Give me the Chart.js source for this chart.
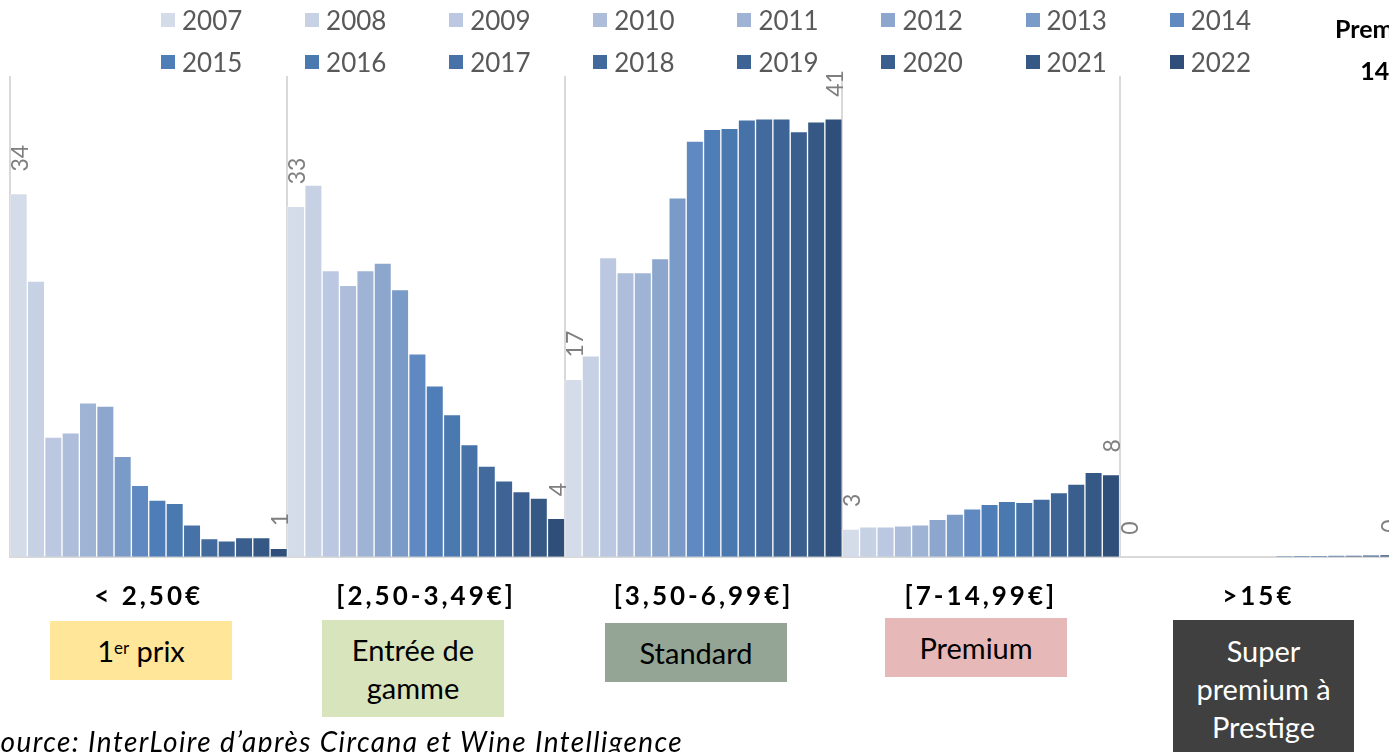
<!DOCTYPE html>
<html lang="fr">
<head>
<meta charset="utf-8">
<script src="https://cdn.jsdelivr.net/npm/chart.js@4.4.1/dist/chart.umd.min.js"></script>
<style>
  html, body { margin: 0; padding: 0; background: #fff; overflow: hidden; width: 1389px; height: 752px; }
  body { position: relative; font-family: Lato, "Open Sans", sans-serif; }
  #wrap { position: absolute; left: 0; top: 0; width: 1400px; height: 752px; }
  #legende { position: absolute; left: 161px; top: -1px; display: grid; grid-template-columns: repeat(8, 144.1px); }
  .item { height: 42px; display: flex; align-items: center; font-size: 26px; color: #595959; white-space: nowrap; }
  .carre { width: 14px; height: 14px; margin-right: 7px; flex: none; }
  .case { position: absolute; display: flex; align-items: center; justify-content: center; text-align: center;
          font-size: 29px; line-height: 38px; color: #000; }
  .case sup { font-size: 17px; line-height: 0; position: relative; top: -3px; }
  #titre { position: absolute; left: 1335px; top: 7px; width: 100px; text-align: center; font-weight: bold;
           font-size: 25px; line-height: 42px; color: #000; }
  #source { position: absolute; left: -15px; top: 724px; font-style: italic; font-size: 28px; letter-spacing: 1.4px; color: #000; white-space: nowrap; }
</style>
</head>
<body>
<div id="wrap"><canvas id="graphique"></canvas></div>
<div id="legende"></div>
<div id="titre">Premium<br>14%</div>

<div class="case" style="left:50px;top:621px;width:182px;height:59px;background:#ffe699;">1<sup>er</sup>&nbsp;prix</div>
<div class="case" style="left:322px;top:620px;width:182px;height:97px;background:#d8e4bc;">Entrée de<br>gamme</div>
<div class="case" style="left:605px;top:623px;width:182px;height:59px;background:#94a595;">Standard</div>
<div class="case" style="left:885px;top:618px;width:182px;height:59px;background:#e6b8b7;">Premium</div>
<div class="case" style="left:1173px;top:620px;width:181px;height:124px;background:#404040;color:#fff;align-items:flex-start;padding-top:12px;">Super<br>premium à<br>Prestige</div>

<div id="source">Source: InterLoire d’après Circana et Wine Intelligence</div>

<script>
const annees = ['2007', '2008', '2009', '2010', '2011', '2012', '2013', '2014',
                '2015', '2016', '2017', '2018', '2019', '2020', '2021', '2022'];
const segments = ['< 2,50€', '[2,50-3,49€]', '[3,50-6,99€]', '[7-14,99€]', '>15€'];

// part des volumes (%) par segment de prix, 2007 -> 2022
const premierPrix  = [34.0, 25.8, 11.2, 11.6, 14.4, 14.1, 9.4, 6.7, 5.3, 5.0, 3.0, 1.7, 1.5, 1.8, 1.8, 0.8];
const entreeGamme  = [32.8, 34.8, 26.8, 25.4, 26.8, 27.5, 25.0, 19.0, 16.0, 13.3, 10.5, 8.5, 7.1, 6.1, 5.5, 3.6];
const standard     = [16.6, 18.8, 28.0, 26.6, 26.6, 27.9, 33.6, 38.9, 40.0, 40.1, 40.9, 41.0, 41.0, 39.8, 40.7, 41.0];
const premium      = [2.6, 2.8, 2.8, 2.9, 3.0, 3.5, 4.0, 4.5, 4.9, 5.2, 5.1, 5.4, 6.0, 6.8, 7.9, 7.7];
const superPremium = [0, 0, 0, 0, 0, 0, 0, 0, 0, 0.05, 0.08, 0.1, 0.12, 0.15, 0.18, 0.2];

const couleurs = ['#d4dbe9', '#c6d1e4', '#bcc8e1', '#aebdd9', '#9fb3d4', '#8da6cd', '#7a9bc7', '#6189c1',
                  '#4f7db8', '#4a79b0', '#4672a8', '#426a9c', '#3e6496', '#3a5e8e', '#355885', '#2f4f7a'];

const series = [premierPrix, entreeGamme, standard, premium, superPremium];

const datasets = annees.map((an, i) => ({
    label: an,
    data: series.map(s => s[i]),
    backgroundColor: couleurs[i],
    borderColor: 'rgba(255,255,255,0.35)',
    borderWidth: 1,
    categoryPercentage: 1,
    barPercentage: 1
}));

// étiquettes verticales sur la première et la dernière année
const etiquettes = {
    id: 'etiquettes',
    beforeDraw(chart) {
        chart.ctx.letterSpacing = '3px';
    },
    afterDatasetsDraw(chart) {
        const ctx = chart.ctx;
        const last = chart.data.datasets.length - 1;
        ctx.save();
        ctx.letterSpacing = '0px';
        ctx.font = '23px Lato';
        ctx.fillStyle = '#7f7f7f';
        ctx.textAlign = 'left';
        ctx.textBaseline = 'middle';
        [0, last].forEach(d => {
            chart.getDatasetMeta(d).data.forEach((bar, j) => {
                const v = chart.data.datasets[d].data[j];
                ctx.save();
                ctx.translate(bar.x + 2, bar.y - 22);
                ctx.rotate(-Math.PI / 2);
                ctx.fillText(String(Math.round(v)), 0, 0);
                ctx.restore();
            });
        });
        ctx.restore();
    },
    afterDraw(chart) {
        chart.ctx.letterSpacing = '0px';
    }
};

const chart = new Chart(document.getElementById('graphique').getContext('2d'), {
    type: 'bar',
    data: { labels: segments, datasets: datasets },
    options: {
        responsive: true,
        maintainAspectRatio: false,
        animation: false,
        layout: { padding: { left: 10, right: 3, top: 76, bottom: 116 } },
        plugins: {
            legend: { display: false },
            tooltip: { enabled: false }
        },
        scales: {
            x: {
                grid: { color: '#d9d9d9', lineWidth: 2, drawTicks: false, offset: true },
                border: { display: true, color: '#d9d9d9', width: 2 },
                ticks: { color: '#000', padding: 24, font: { family: 'Lato', size: 26, weight: 'bold' } }
            },
            y: {
                display: false,
                min: 0,
                max: 45
            }
        }
    },
    plugins: [etiquettes]
});

// légende HTML à partir des jeux de données
const legende = document.getElementById('legende');
chart.data.datasets.forEach(ds => {
    const item = document.createElement('div');
    item.className = 'item';
    item.innerHTML = '<span class="carre" style="background:' + ds.backgroundColor + '"></span>' + ds.label;
    legende.appendChild(item);
});
</script>
</body>
</html>
